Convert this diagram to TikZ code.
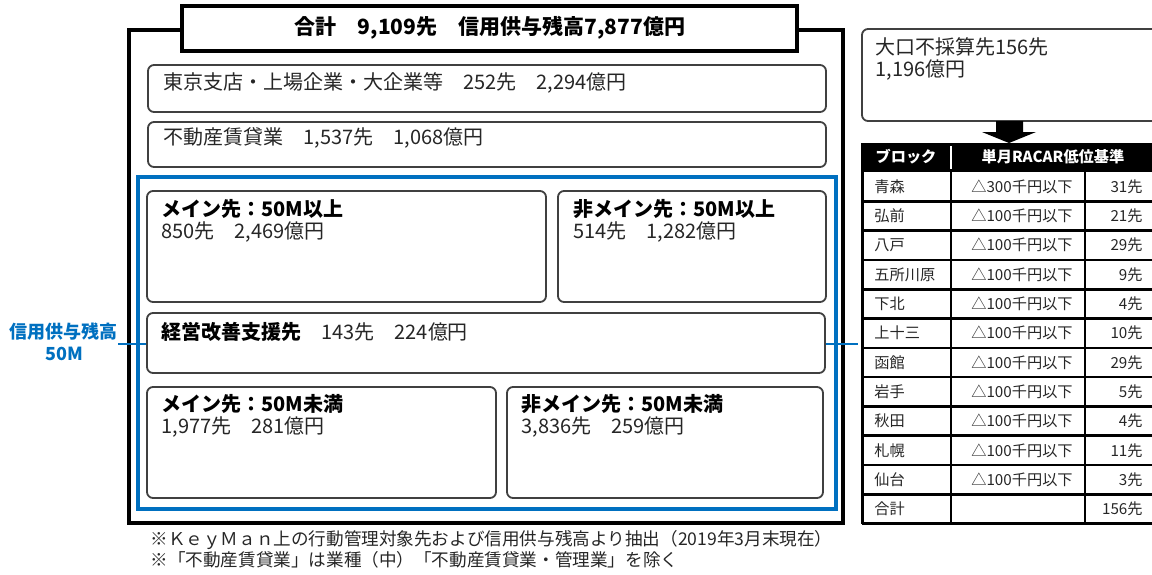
\documentclass[tikz,border=0pt]{standalone}
\usepackage{fontspec}
\setmainfont{Noto Sans CJK JP}
\usepackage{tikz}
\usetikzlibrary{positioning}

\definecolor{keyblue}{RGB}{0,112,192}

\tikzset{
  rbox/.style={draw=black!75, line width=0.9pt, fill=white, rounded corners=3pt},
  txt/.style={inner sep=0pt, anchor=west, text=black!85, font=\fontsize{10}{12}\selectfont},
  head/.style={txt, text=black, font=\fontsize{10}{12}\selectfont\bfseries},
  cell/.style={inner sep=0pt, text=black!85, font=\fontsize{7.6}{9}\selectfont},
  note/.style={inner sep=0pt, anchor=west, text=black!85, font=\fontsize{8.8}{11}\selectfont}
}

\begin{document}
\begin{tikzpicture}[x=0.5pt, y=-0.5pt]
      \useasboundingbox (0,0) rectangle (1152,574);

      % Draw the outer frames
      \draw[line width=1.7pt] (129,30) rectangle (843,523);
      \draw[keyblue, line width=1.8pt] (138,177) rectangle (836,509);
      \draw[keyblue, line width=1.3pt] (118,344) -- (858,344);

      % Draw the title
      \draw[line width=1.7pt, fill=white] (182,6) rectangle (797,51);
      \node[head, anchor=center, font=\fontsize{10.5}{12}\selectfont\bfseries] (total) at (490,28)
      {合計　9,109先　信用供与残高7,877億円};

      % Draw the upper boxes
      \draw[rbox] (148,65) rectangle (826,112);
      \node[txt] (tokyo) at (163,83) {東京支店・上場企業・大企業等　252先　2,294億円};
      \draw[rbox] (148,122) rectangle (826,167);
      \node[txt] (estate) at (163,138) {不動産賃貸業　1,537先　1,068億円};

      % Draw the boxes inside the blue frame
      \draw[rbox] (147,191) rectangle (546,302);
      \node[head] (mainhi) at (161,209) {メイン先：50M以上};
      \node[txt] (mainhinum) at (161,232) {850先　2,469億円};

      \draw[rbox] (558,191) rectangle (826,302);
      \node[head] (submainhi) at (573,209) {非メイン先：50M以上};
      \node[txt] (submainhinum) at (573,232) {514先　1,282億円};

      \draw[rbox] (147,313) rectangle (825,373);
      \node[txt] (support) at (161,332) {{\color{black}\bfseries 経営改善支援先}　143先　224億円};

      \draw[rbox] (147,387) rectangle (496,498);
      \node[head] (mainlo) at (161,404) {メイン先：50M未満};
      \node[txt] (mainlonum) at (161,427) {1,977先　281億円};

      \draw[rbox] (507,387) rectangle (823,498);
      \node[head] (submainlo) at (521,404) {非メイン先：50M未満};
      \node[txt] (submainlonum) at (521,427) {3,836先　259億円};

      % Draw the threshold label
      \node[inner sep=0pt, keyblue, font=\fontsize{9}{11}\selectfont\bfseries] (limit) at (64,332) {信用供与残高};
      \node[inner sep=0pt, keyblue, font=\fontsize{9}{11}\selectfont\bfseries] (limitval) at (64,354) {50M};

      % Draw the large unprofitable box
      \draw[rbox] (862,29) rectangle (1170,121);
      \node[txt] (large) at (875,47) {大口不採算先156先};
      \node[txt] (largeval) at (875,70) {1,196億円};

      % Draw the arrow
      \fill (996,121) -- (1023,121) -- (1023,132) -- (1036,132) -- (1009,143)
        -- (982,132) -- (996,132) -- cycle;

      % Draw the table header
      \fill (862,143) rectangle (1170,172);
      \draw[white, line width=1pt] (951,146) -- (951,169);
      \node[cell, white, font=\fontsize{7.6}{9}\selectfont\bfseries] (hblock) at (906,157) {ブロック};
      \node[cell, white, font=\fontsize{7.6}{9}\selectfont\bfseries] (hcrit) at (1053,157) {単月RACAR低位基準};

      % Draw the table rows
      \foreach \blk/\crit/\num [count=\i] in {青森/300/31, 弘前/100/21, 八戸/100/29,
        五所川原/100/9, 下北/100/4, 上十三/100/10, 函館/100/29, 岩手/100/5,
        秋田/100/4, 札幌/100/11, 仙台/100/3} {
        \pgfmathsetmacro{\ry}{172+(\i-0.5)*29.3}
        \node[cell, anchor=west] (blk\i) at (874,\ry) {\blk};
        \node[cell] (crit\i) at (1022,\ry) {△\crit 千円以下};
        \node[cell, anchor=east] (num\i) at (1143,\ry) {\num 先};
      }
      \node[cell, anchor=west] (blksum) at (874,509) {合計};
      \node[cell, anchor=east] (numsum) at (1143,509) {156先};

      % Draw the table lines
      \foreach \k in {1,...,12}
        \draw[line width=1.3pt] (862,172+\k*29.3) -- (1170,172+\k*29.3);
      \draw[line width=1.5pt] (862,143) -- (862,524);
      \draw[line width=1.3pt] (951,172) -- (951,524);
      \draw[line width=1.3pt] (1085,172) -- (1085,524);

      % Draw the notes
      \node[note] (note1) at (150,540) {※ＫｅｙＭａｎ上の行動管理対象先および信用供与残高より抽出（2019年3月末現在）};
      \node[note] (note2) at (150,560) {※「不動産賃貸業」は業種（中）「不動産賃貸業・管理業」を除く};
    \end{tikzpicture}
\end{document}
